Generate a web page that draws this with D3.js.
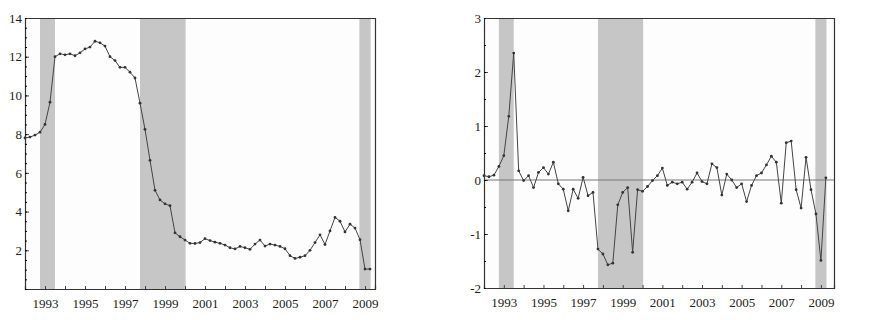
<!DOCTYPE html>
<html><head><meta charset="utf-8">
<script src="https://cdn.jsdelivr.net/npm/d3@7"></script>
<style>body{margin:0;background:#fff}svg{display:block}</style>
</head><body>
<svg id="c" width="873" height="320"></svg>
<script>
// quarterly observations starting 1992 Q1
const startYear = 1992;
const leftValues = [7.8,7.85,7.95,8.1, 8.5,9.65,12.0,12.15, 12.1,12.15,12.05,12.2, 12.4,12.5,12.8,12.72,
  12.55,12.0,11.8,11.45, 11.45,11.2,10.9,9.6, 8.25,6.65,5.1,4.6, 4.4,4.3,2.9,2.7,
  2.53,2.36,2.35,2.4, 2.6,2.5,2.42,2.36, 2.27,2.13,2.07,2.2, 2.13,2.05,2.32,2.53,
  2.22,2.32,2.27,2.2, 2.08,1.72,1.58,1.64, 1.72,2.0,2.4,2.8, 2.3,3.0,3.7,3.5,
  2.95,3.35,3.15,2.55, 1.03,1.03];
const rightValues = [0.08,0.06,0.09,0.25, 0.45,1.18,2.35,0.17, -0.01,0.08,-0.14,0.14, 0.23,0.11,0.33,-0.07,
  -0.17,-0.57,-0.17,-0.34, 0.05,-0.29,-0.23,-1.28, -1.37,-1.57,-1.54,-0.46, -0.23,-0.14,-1.34,-0.18,
  -0.21,-0.12,-0.01,0.08, 0.22,-0.1,-0.04,-0.07, -0.04,-0.17,-0.04,0.13, -0.03,-0.07,0.3,0.23,
  -0.28,0.11,0.0,-0.14, -0.07,-0.4,-0.1,0.08, 0.13,0.28,0.44,0.33, -0.43,0.69,0.72,-0.18,
  -0.52,0.42,-0.18,-0.63, -1.49,0.04];
const recessions = [[1992.75,1993.5],[1997.75,2000.03],[2008.72,2009.28]];
const xTickYears = d3.range(1992, 2010);
const xLabelYears = [1993,1995,1997,1999,2001,2003,2005,2007,2009];
const leftYTicks = [2,4,6,8,10,12,14];
const leftYMinor = d3.range(0, 14.01, 0.5);
const rightYTicks = [-2,-1,0,1,2,3];
const rightYMinor = d3.range(-2, 3.01, 0.5);

const svg = d3.select("#c");
const FONT = "'Liberation Serif', 'Times New Roman', serif";

function panel(cfg){
  const g = svg.append("g");
  const x = d3.scaleLinear().domain(cfg.xDomain).range(cfg.xRange);
  const y = d3.scaleLinear().domain(cfg.yDomain).range(cfg.yRange);
  const [x0,x1] = cfg.xRange, [y0,y1] = cfg.yRange;
  // background
  g.append("rect").attr("x",x0).attr("y",y1).attr("width",x1-x0).attr("height",y0-y1).attr("fill","#fdfdfd");
  // recession shading
  g.selectAll("rect.rec").data(recessions).enter().append("rect")
    .attr("x", d=>x(d[0])).attr("width", d=>x(d[1])-x(d[0]))
    .attr("y", y1).attr("height", y0-y1).attr("fill","#c6c6c6");
  if (cfg.zeroLine){
    g.append("line").attr("x1",x0).attr("x2",x1).attr("y1",y(0)).attr("y2",y(0))
      .attr("stroke","#777").attr("stroke-width",1);
  }
  // frame top & right
  g.append("path").attr("d",`M${x0},${y1+0.5}H${x1+0.5}V${y0}`).attr("fill","none").attr("stroke","#333").attr("stroke-width",1.2);
  // axes
  const ax = g.append("g").attr("transform",`translate(0,${y0})`)
    .call(d3.axisBottom(x).tickValues(xTickYears).tickSize(-3).tickPadding(9.5)
      .tickFormat(d => xLabelYears.includes(d) ? String(d) : ""));
  const ay = g.append("g").attr("transform",`translate(${x0},0)`)
    .call(d3.axisLeft(y).tickValues(cfg.yTicks).tickSize(-4).tickPadding(3).tickFormat(d=>String(d)));
  g.append("g").attr("transform",`translate(${x0},0)`)
    .call(d3.axisLeft(y).tickValues(cfg.yMinor).tickSize(-2).tickFormat(""))
    .call(s=>s.select(".domain").remove());
  [ax, ay].forEach(a=>{
    a.select(".domain").attr("stroke","#333").attr("stroke-width",1.2);
    a.selectAll(".tick line").attr("stroke","#444");
    a.selectAll("text").attr("font-family",FONT).attr("font-size",13).attr("fill","#222");
  });
  const data = cfg.values.map((v,i)=>({t:startYear+i*0.25, v}));
  g.append("path").datum(data)
    .attr("d", d3.line().x(d=>x(d.t)).y(d=>y(d.v)))
    .attr("fill","none").attr("stroke","#444").attr("stroke-width",1);
  g.selectAll("circle").data(data).enter().append("circle")
    .attr("cx",d=>x(d.t)).attr("cy",d=>y(d.v)).attr("r",1.4).attr("fill","#333");
}

panel({xDomain:[1992,2009.5], xRange:[25,375], yDomain:[0,14], yRange:[289,18],
  values:leftValues, yTicks:leftYTicks, yMinor:leftYMinor, zeroLine:false});
panel({xDomain:[1992,2009.66], xRange:[484,834], yDomain:[-2,3], yRange:[288,18],
  values:rightValues, yTicks:rightYTicks, yMinor:rightYMinor, zeroLine:true});
</script>
</body></html>
